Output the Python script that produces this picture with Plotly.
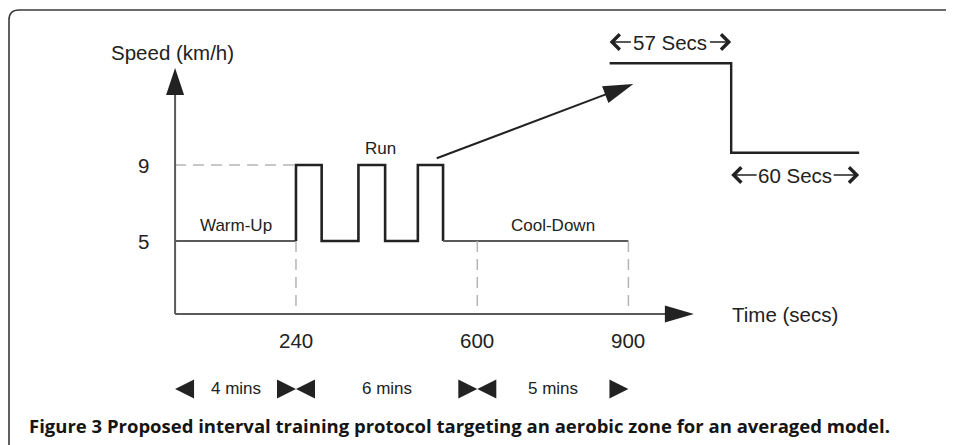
import plotly.graph_objects as go

# ---------------- data ----------------
phase_bounds = [0, 240, 600, 900]            # seconds
phase_labels = ["Warm-Up", "Run", "Cool-Down"]
phase_durations = ["4 mins", "6 mins", "5 mins"]
rest_speed = 5                                # km/h
run_speed = 9                                 # km/h
interval_starts = [240, 364, 482]             # s
interval_ends = [291, 417, 532]               # s
speed_ticks = [9, 5]
time_ticks = [240, 600, 900]
inset_times = [0, 57, 57, 117]                # s (zoomed single interval)
inset_speeds = [9, 9, 5, 5]
inset_labels = ["57 Secs", "60 Secs"]
axis_base_speed = 1.16                        # where the time axis crosses
time_axis_end = 1030
speed_axis_end = 14.1

# ---------------- layout helpers ----------------
# screen coordinates; the page body has an 8px margin, so the figure is offset
OFF = 8
SW, SH = 954, 445
W, H = SW - OFF, SH - OFF
XA, XB = 175.08 - OFF, 0.5037      # fig px = XA + XB * t
YA, YB = 336.0 - OFF, 19.0         # fig py = YA - YB * v
IXA, IXB = 609.6 - OFF, 2.133      # inset
IYA, IYB = 264.45 - OFF, 22.35


def tx(sx):            # screen x -> time units
    return (sx - OFF - XA) / XB


def vy(sy):            # screen y -> speed units
    return (YA - (sy - OFF)) / YB


def ptx(t):            # time -> screen x
    return XA + XB * t + OFF


def pvy(v):            # speed -> screen y
    return YA - YB * v + OFF


DARK = "#222222"
GREY = "#5a5a5a"
DASH = "#b5b5b5"
FONT = "Liberation Sans, Arial, sans-serif"

fig = go.Figure()

# warm-up segment
fig.add_trace(go.Scatter(
    x=[phase_bounds[0], phase_bounds[1]], y=[rest_speed, rest_speed],
    mode="lines", line=dict(color=GREY, width=1.8), hoverinfo="skip"))

# run intervals
run_t, run_v = [interval_starts[0]], [rest_speed]
for s, e in zip(interval_starts, interval_ends):
    run_t += [s, s, e, e]
    run_v += [rest_speed, run_speed, run_speed, rest_speed]
fig.add_trace(go.Scatter(
    x=run_t, y=run_v, mode="lines",
    line=dict(color=DARK, width=2.6), hoverinfo="skip"))

# remaining run + cool-down at rest speed
fig.add_trace(go.Scatter(
    x=[interval_ends[-1], phase_bounds[3]], y=[rest_speed, rest_speed],
    mode="lines", line=dict(color=GREY, width=1.8), hoverinfo="skip"))

# inset: a single interval zoomed in
fig.add_trace(go.Scatter(
    x=inset_times, y=inset_speeds, mode="lines", xaxis="x2", yaxis="y2",
    line=dict(color=DARK, width=2.4), hoverinfo="skip"))

# phase boundary arrowheads (bottom row)
left_t = [phase_bounds[0], phase_bounds[1], phase_bounds[2]]
right_t = [phase_bounds[1], phase_bounds[2], phase_bounds[3]]
row_v = vy(389)
fig.add_trace(go.Scatter(
    x=left_t, y=[row_v] * 3, mode="markers",
    marker=dict(symbol="arrow-left", size=19, color=DARK, line=dict(width=0)),
    hoverinfo="skip"))
fig.add_trace(go.Scatter(
    x=right_t, y=[row_v] * 3, mode="markers",
    marker=dict(symbol="arrow-right", size=19, color=DARK, line=dict(width=0)),
    hoverinfo="skip"))

shapes = []
# dashed guides
shapes.append(dict(type="line", xref="x", yref="y",
                   x0=0, x1=phase_bounds[1], y0=run_speed, y1=run_speed,
                   line=dict(color=DASH, width=1.5, dash="11px,7px")))
for t in phase_bounds[1:]:
    shapes.append(dict(type="line", xref="x", yref="y",
                       x0=t, x1=t, y0=rest_speed, y1=axis_base_speed,
                       line=dict(color=DASH, width=1.5, dash="11px,7px")))

# axes with arrowheads
head_len_y, head_half_y = 27, 9
head_len_x, head_half_x = 29, 8.5
y_tip_py = pvy(speed_axis_end)
x_tip_px = ptx(time_axis_end)
shapes.append(dict(type="line", xref="x", yref="y",
                   x0=0, x1=0, y0=axis_base_speed, y1=vy(y_tip_py + head_len_y - 1),
                   line=dict(color=GREY, width=2)))
shapes.append(dict(type="line", xref="x", yref="y",
                   x0=0, x1=tx(x_tip_px - head_len_x + 1), y0=axis_base_speed, y1=axis_base_speed,
                   line=dict(color=GREY, width=2)))
x0p = ptx(0)
shapes.append(dict(type="path", xref="x", yref="y",
                   path=f"M{tx(x0p)},{speed_axis_end} L{tx(x0p - head_half_y)},{vy(y_tip_py + head_len_y)} "
                        f"L{tx(x0p + head_half_y)},{vy(y_tip_py + head_len_y)} Z",
                   fillcolor=DARK, line=dict(width=0)))
base_py = pvy(axis_base_speed)
shapes.append(dict(type="path", xref="x", yref="y",
                   path=f"M{time_axis_end},{axis_base_speed} L{tx(x_tip_px - head_len_x)},{vy(base_py - head_half_x)} "
                        f"L{tx(x_tip_px - head_len_x)},{vy(base_py + head_half_x)} Z",
                   fillcolor=DARK, line=dict(width=0)))

# diagonal pointer arrow towards the inset (screen px)
sx, sy = 436.7, 158.3
ex, ey = 633.3, 84.0
dx, dy = ex - sx, ey - sy
L = (dx ** 2 + dy ** 2) ** 0.5
ux, uy = dx / L, dy / L
nx, ny = -uy, ux
hl, hw = 30, 9
bx, by = ex - hl * ux, ey - hl * uy
shapes.append(dict(type="line", xref="x", yref="y",
                   x0=tx(sx), y0=vy(sy), x1=tx(bx + 2 * ux), y1=vy(by + 2 * uy),
                   line=dict(color=DARK, width=2)))
shapes.append(dict(type="path", xref="x", yref="y",
                   path=f"M{tx(ex)},{vy(ey)} L{tx(bx + hw * nx)},{vy(by + hw * ny)} "
                        f"L{tx(bx - hw * nx)},{vy(by - hw * ny)} Z",
                   fillcolor=DARK, line=dict(width=0)))


# rounded frame (cropped at right/bottom)
def pp(sx, sy):
    return f"{(sx - OFF) / W},{1 - (sy - OFF) / H}"


shapes.append(dict(type="path", xref="paper", yref="paper",
                   path=f"M{pp(960, 10)} L{pp(19, 10)} Q{pp(9, 10)} {pp(9, 20)} L{pp(9, 460)}",
                   line=dict(color="#3a3a3a", width=1.6)))

ann = []


def txt(text, x, y, size, xref="x", yref="y", **kw):
    d = dict(text=text, x=x, y=y, xref=xref, yref=yref, showarrow=False,
             font=dict(family=FONT, size=size, color=DARK),
             xanchor="center", yanchor="middle")
    d.update(kw)
    ann.append(d)


txt("Speed (km/h)", tx(172), vy(52), 20.5)
for v in speed_ticks:
    txt(str(v), tx(143), v, 20.5)
for t in time_ticks:
    txt(str(t), t, vy(340), 20.5)
txt("Time (secs)", tx(785), vy(314), 20.5)
txt(phase_labels[0], (phase_bounds[0] + phase_bounds[1]) / 2, vy(225), 17)
txt(phase_labels[1], tx(380), vy(148), 17)
txt(phase_labels[2], (phase_bounds[2] + phase_bounds[3]) / 2, vy(225), 17)
for i, lab in enumerate(phase_durations):
    txt(lab, (phase_bounds[i] + phase_bounds[i + 1]) / 2, row_v + 0.05, 17)

# inset labels with double arrows
label_sy = [42, 175]
seg = [(inset_times[0], inset_times[1]), (inset_times[2], inset_times[3])]
text_w = [74, 72]
for (a, b), lab, lsy, w in zip(seg, inset_labels, label_sy, text_w):
    mid = (a + b) / 2
    yv = (IYA - (lsy - OFF)) / IYB
    txt(lab, mid, yv, 20.5, xref="x2", yref="y2")
    half = (w / 2 + 1) / IXB
    for tip, start in [(a, mid - half), (b, mid + half)]:
        ann.append(dict(text="", x=tip, y=yv, ax=start, ay=yv,
                        xref="x2", yref="y2", axref="x2", ayref="y2",
                        showarrow=True, arrowhead=4, arrowsize=2, arrowwidth=1.5,
                        arrowcolor=DARK, standoff=0))

# caption
ann.append(dict(text="<b>Figure 3 Proposed interval training protocol targeting an aerobic zone for an averaged model.</b>",
                x=(27 - OFF) / W, y=1 - (425 - OFF) / H, xref="paper", yref="paper", showarrow=False,
                xanchor="left", yanchor="middle",
                font=dict(family="Open Sans, sans-serif", size=18.5, color="#151515")))

fig.update_layout(
    width=W, height=H, autosize=False,
    margin=dict(l=0, r=0, t=0, b=0, pad=0),
    paper_bgcolor="white", plot_bgcolor="white",
    showlegend=False,
    xaxis=dict(range=[tx(OFF), tx(OFF + W)], visible=False, fixedrange=True),
    yaxis=dict(range=[vy(OFF + H), vy(OFF)], visible=False, fixedrange=True),
    xaxis2=dict(range=[-IXA / IXB, (W - IXA) / IXB], overlaying="x", visible=False, fixedrange=True),
    yaxis2=dict(range=[(IYA - H) / IYB, IYA / IYB], overlaying="y", visible=False, fixedrange=True),
    shapes=shapes, annotations=ann,
)

fig.write_html("out.html")
